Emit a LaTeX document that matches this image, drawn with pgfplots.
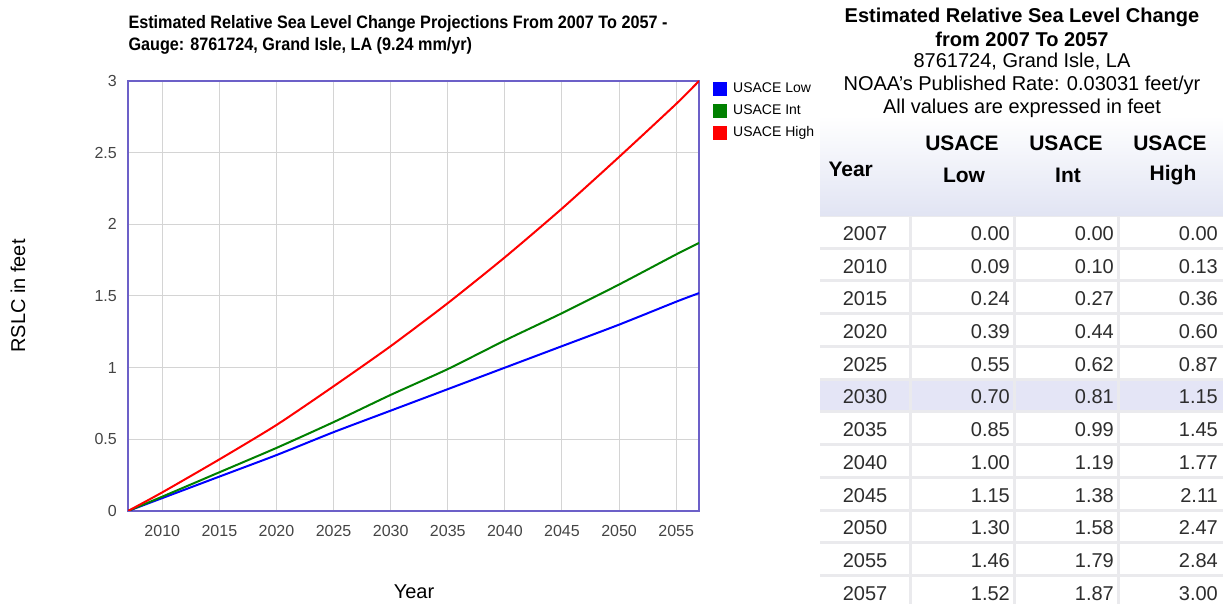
\documentclass[border=0pt]{standalone}
\usepackage{fontspec}
\setmainfont{Liberation Sans}
\newfontfamily\narrowfont[FakeStretch=0.9]{Liberation Sans}
\usepackage{pgfplots}
\pgfplotsset{compat=1.18}
\usepackage{pgfplotstable}

\definecolor{axisc}{RGB}{108,96,200}
\definecolor{gridc}{RGB}{212,212,212}
\definecolor{tickc}{RGB}{68,68,68}
\definecolor{cellgray}{RGB}{234,234,237}
\definecolor{hilite}{RGB}{228,229,246}
\definecolor{headbot}{RGB}{225,228,243}
\definecolor{txt}{RGB}{45,45,45}
\definecolor{lowc}{RGB}{0,0,255}
\definecolor{intc}{RGB}{0,128,0}
\definecolor{highc}{RGB}{255,0,0}

\newcommand{\fs}[1]{\fontsize{#1bp}{#1bp}\selectfont}

\pgfplotstableread{
year low int high
2007 0.00 0.00 0.00
2010 0.09 0.10 0.13
2015 0.24 0.27 0.36
2020 0.39 0.44 0.60
2025 0.55 0.62 0.87
2030 0.70 0.81 1.15
2035 0.85 0.99 1.45
2040 1.00 1.19 1.77
2045 1.15 1.38 2.11
2050 1.30 1.58 2.47
2055 1.46 1.79 2.84
2057 1.52 1.87 3.00
}\datatable

\begin{document}
\begin{tikzpicture}[x=1bp,y=1bp]
\path[use as bounding box] (0,0) rectangle (1223,604);

% ---------------- chart ----------------
\begin{axis}[
  at={(128bp,93bp)}, anchor=south west,
  width=571bp, height=430bp, scale only axis,
  xmin=2007, xmax=2057, ymin=0, ymax=3,
  xtick={2010,2015,...,2055}, ytick={0,0.5,...,3},
  /pgf/number format/assume math mode=true,
  xticklabel={\pgfmathprintnumber[1000 sep={}]{\tick}},
  major tick length=0pt,
  grid=major,
  major grid style={draw=gridc, line width=1bp},
  axis line style={draw=axisc, line width=1.6bp},
  tick label style={font=\fs{16}, text=tickc, inner sep=0pt},
  every x tick label/.append style={anchor=center, yshift=-20bp},
  every y tick label/.append style={anchor=east, xshift=-11bp},
  legend style={at={(1.0245,1)}, anchor=north west, draw=none, fill=none,
    font=\fs{14}, text=black, row sep=6.5bp, inner sep=0pt,
    cells={anchor=west}},
  legend image code/.code={\fill[#1] (0bp,-6bp) rectangle (12bp,6bp); \path (16bp,0bp);},
  legend cell align=left,
]
\addplot[lowc, line width=2bp, smooth, tension=0.4] table[x=year, y=low] {\datatable};
\addplot[intc, line width=2bp, smooth, tension=0.4] table[x=year, y=int] {\datatable};
\addplot[highc, line width=2bp, smooth, tension=0.4] table[x=year, y=high] {\datatable};
\legend{USACE Low, USACE Int, USACE High}
\end{axis}

% chart title and axis labels
\node[anchor=west, font=\narrowfont\bfseries\fs{18}] at (125,580) {Estimated Relative Sea Level Change Projections From 2007 To 2057 -};
\node[anchor=west, font=\narrowfont\bfseries\fs{18}] at (125,558) {Gauge: 8761724, Grand Isle, LA (9.24 mm/yr)};
\node[rotate=90, font=\fs{20}] at (18,308) {RSLC in feet};
\node[font=\fs{20}] at (414,12) {Year};

% ---------------- table ----------------
\shade[top color=white, bottom color=headbot] (820,488) rectangle (1223,388);
\fill[cellgray] (820,0) rectangle (1223,388);

\node[font=\bfseries\fs{20}] at (1022,587) {Estimated Relative Sea Level Change};
\node[font=\bfseries\fs{20}] at (1022,565) {from 2007 To 2057};
\node[font=\fs{20}] at (1022,542) {8761724, Grand Isle, LA};
\node[font=\fs{20}] at (1022,519) {NOAA's Published Rate: 0.03031 feet/yr};
\node[font=\fs{20}] at (1022,496) {All values are expressed in feet};

\node[anchor=west, font=\bfseries\fs{21}] at (825,435) {Year};
\node[font=\bfseries\fs{21}] at (962,461) {USACE};
\node[font=\bfseries\fs{21}] at (964,429) {Low};
\node[font=\bfseries\fs{21}] at (1066,461) {USACE};
\node[font=\bfseries\fs{21}] at (1068,429) {Int};
\node[font=\bfseries\fs{21}] at (1170,461) {USACE};
\node[font=\bfseries\fs{21}] at (1173,429) {High};

\foreach \yr/\vl/\vi/\vh [count=\i from 0] in {
  2007/0.00/0.00/0.00, 2010/0.09/0.10/0.13, 2015/0.24/0.27/0.36,
  2020/0.39/0.44/0.60, 2025/0.55/0.62/0.87, 2030/0.70/0.81/1.15,
  2035/0.85/0.99/1.45, 2040/1.00/1.19/1.77, 2045/1.15/1.38/2.11,
  2050/1.30/1.58/2.47, 2055/1.46/1.79/2.84, 2057/1.52/1.87/3.00}{
  \pgfmathsetmacro\tp{387-32.73*\i}
  \pgfmathsetmacro\bt{\tp-32.73+3}
  \pgfmathsetmacro\mid{\tp-16.4}
  \ifnum\i=5 \def\cc{hilite}\else\def\cc{white}\fi
  \fill[\cc] (820,\tp) rectangle (909,\bt);
  \fill[\cc] (911.5,\tp) rectangle (1013,\bt);
  \fill[\cc] (1015.5,\tp) rectangle (1117,\bt);
  \fill[\cc] (1119.5,\tp) rectangle (1223,\bt);
  \node[font=\fs{20}, text=txt] at (865,\mid) {\yr};
  \node[font=\fs{20}, text=txt, anchor=east, inner sep=0pt] at (1010,\mid) {\vl};
  \node[font=\fs{20}, text=txt, anchor=east, inner sep=0pt] at (1114,\mid) {\vi};
  \node[font=\fs{20}, text=txt, anchor=east, inner sep=0pt] at (1218,\mid) {\vh};
}
\end{tikzpicture}
\end{document}
